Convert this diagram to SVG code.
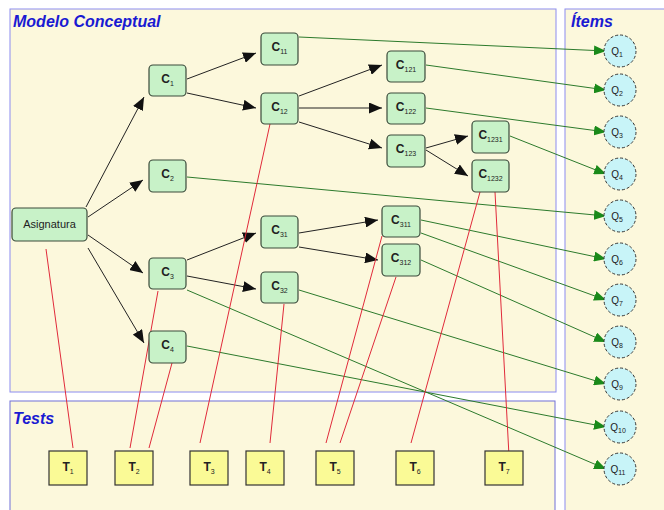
<svg xmlns="http://www.w3.org/2000/svg" width="664" height="510" viewBox="0 0 664 510">
  <style>
    .panel { fill: #fcf8dc; stroke: #8c8cf0; stroke-width: 1; }
    .title { font-family: "Liberation Sans", Arial, sans-serif; font-weight: bold; font-style: italic; font-size: 16px; fill: #1a1ad2; }
    .concept rect { fill: #c8f2c8; stroke: #3a4a3a; stroke-width: 1.2; }
    .item circle { fill: #c8f4f8; stroke: #333; stroke-width: 1; stroke-dasharray: 3 2; }
    .test rect { fill: #fafa96; stroke: #333; stroke-width: 1.2; }
    .lbl { font-family: "Liberation Sans", Arial, sans-serif; font-size: 12px; font-weight: bold; fill: #222; text-anchor: middle; }
    .sub { font-size: 7px; font-weight: normal; }
    .name { font-family: "Liberation Sans", Arial, sans-serif; font-size: 11px; fill: #222; text-anchor: middle; }
    .qlbl { font-family: "Liberation Sans", Arial, sans-serif; font-size: 10px; fill: #222; text-anchor: middle; }
    .hier line { stroke: #222; stroke-width: 1; marker-end: url(#ah-black); }
    .map line { stroke: #2c7a2c; stroke-width: 1; marker-end: url(#ah-green); }
    .cover line { stroke: #e02a3a; stroke-width: 1; }
  </style>
  <defs>
    <marker id="ah-black" viewBox="0 0 13 11" refX="13" refY="5.5" markerWidth="13" markerHeight="11" markerUnits="userSpaceOnUse" orient="auto">
      <path d="M0,0 L13,5.5 L0,11 z" fill="#111"/>
    </marker>
    <marker id="ah-green" viewBox="0 0 12 10" refX="12" refY="5" markerWidth="12" markerHeight="10" markerUnits="userSpaceOnUse" orient="auto">
      <path d="M0,0 L12,5 L0,10 z" fill="#1a8a1a"/>
    </marker>
  </defs>

  <rect width="664" height="510" fill="#ffffff"/>

  <!-- panels -->
  <rect class="panel" x="10" y="9" width="546" height="383"/>
  <rect class="panel" x="565" y="9" width="104" height="510"/>
  <rect class="panel" x="10" y="401" width="545" height="120" style="stroke:#7070d8"/>
  <text class="title" x="13" y="27">Modelo Conceptual</text>
  <text class="title" x="571" y="27">Ítems</text>
  <text class="title" x="13" y="424">Tests</text>

  <!-- connectors -->
  <g id="connectors">
    <g class="map">
      <line x1="299" y1="37" x2="606" y2="51"/>
      <line x1="426" y1="65" x2="606" y2="90"/>
      <line x1="426" y1="108" x2="606" y2="132"/>
      <line x1="510" y1="136" x2="606" y2="174"/>
      <line x1="187" y1="177" x2="606" y2="216"/>
      <line x1="421" y1="220" x2="606" y2="259"/>
      <line x1="421" y1="233" x2="606" y2="300"/>
      <line x1="421" y1="260" x2="606" y2="342"/>
      <line x1="299" y1="290" x2="606" y2="384"/>
      <line x1="187" y1="346" x2="606" y2="427"/>
      <line x1="187" y1="290" x2="606" y2="469"/>
    </g>
    <g class="hier">
      <line x1="86" y1="207" x2="144" y2="97"/>
      <line x1="88" y1="217" x2="143" y2="180"/>
      <line x1="88" y1="235" x2="143" y2="273"/>
      <line x1="88" y1="248" x2="144" y2="343"/>
      <line x1="187" y1="79" x2="256" y2="53"/>
      <line x1="187" y1="93" x2="256" y2="108"/>
      <line x1="299" y1="96" x2="382" y2="65"/>
      <line x1="299" y1="108" x2="382" y2="108"/>
      <line x1="299" y1="122" x2="382" y2="148"/>
      <line x1="426" y1="148" x2="468" y2="136"/>
      <line x1="426" y1="150" x2="468" y2="176"/>
      <line x1="187" y1="260" x2="256" y2="233"/>
      <line x1="187" y1="276" x2="256" y2="289"/>
      <line x1="299" y1="233" x2="378" y2="220"/>
      <line x1="299" y1="247" x2="378" y2="260"/>
    </g>
    <g class="cover">
      <line x1="46" y1="249" x2="73" y2="448"/>
      <line x1="158" y1="291" x2="130" y2="448"/>
      <line x1="172" y1="363" x2="149" y2="448"/>
      <line x1="270" y1="124" x2="200" y2="443"/>
      <line x1="284" y1="304" x2="270" y2="443"/>
      <line x1="382" y1="236" x2="326" y2="443"/>
      <line x1="396" y1="277" x2="340" y2="443"/>
      <line x1="480" y1="192" x2="411" y2="443"/>
      <line x1="495" y1="192" x2="509" y2="456"/>
    </g>
  </g>

  <!-- concept nodes -->
  <g id="asignatura" class="concept"><rect x="12" y="208" width="75" height="33" rx="4"/><text class="name" x="49.5" y="228">Asignatura</text></g>
  <g id="c1" class="concept"><rect x="149" y="65" width="37" height="31" rx="4"/><text class="lbl" x="167.5" y="83">C<tspan class="sub" dy="3">1</tspan></text></g>
  <g id="c11" class="concept"><rect x="261" y="33" width="37" height="32" rx="4"/><text class="lbl" x="279.5" y="51">C<tspan class="sub" dy="3">11</tspan></text></g>
  <g id="c12" class="concept"><rect x="261" y="93" width="37" height="31" rx="4"/><text class="lbl" x="279.5" y="111">C<tspan class="sub" dy="3">12</tspan></text></g>
  <g id="c2" class="concept"><rect x="149" y="160" width="37" height="32" rx="4"/><text class="lbl" x="167.5" y="178">C<tspan class="sub" dy="3">2</tspan></text></g>
  <g id="c121" class="concept"><rect x="387" y="51" width="38" height="31" rx="4"/><text class="lbl" x="406" y="69">C<tspan class="sub" dy="3">121</tspan></text></g>
  <g id="c122" class="concept"><rect x="387" y="93" width="38" height="31" rx="4"/><text class="lbl" x="406" y="111">C<tspan class="sub" dy="3">122</tspan></text></g>
  <g id="c123" class="concept"><rect x="387" y="135" width="38" height="32" rx="4"/><text class="lbl" x="406" y="153">C<tspan class="sub" dy="3">123</tspan></text></g>
  <g id="c1231" class="concept"><rect x="472" y="121" width="37" height="32" rx="4"/><text class="lbl" x="490.5" y="139">C<tspan class="sub" dy="3">1231</tspan></text></g>
  <g id="c1232" class="concept"><rect x="472" y="160" width="37" height="32" rx="4"/><text class="lbl" x="490.5" y="178">C<tspan class="sub" dy="3">1232</tspan></text></g>
  <g id="c3" class="concept"><rect x="149" y="258" width="37" height="31" rx="4"/><text class="lbl" x="167.5" y="276">C<tspan class="sub" dy="3">3</tspan></text></g>
  <g id="c4" class="concept"><rect x="149" y="331" width="37" height="32" rx="4"/><text class="lbl" x="167.5" y="349">C<tspan class="sub" dy="3">4</tspan></text></g>
  <g id="c31" class="concept"><rect x="261" y="216" width="37" height="32" rx="4"/><text class="lbl" x="279.5" y="234">C<tspan class="sub" dy="3">31</tspan></text></g>
  <g id="c32" class="concept"><rect x="261" y="272" width="37" height="31" rx="4"/><text class="lbl" x="279.5" y="290">C<tspan class="sub" dy="3">32</tspan></text></g>
  <g id="c311" class="concept"><rect x="382" y="206" width="38" height="31" rx="4"/><text class="lbl" x="401" y="224">C<tspan class="sub" dy="3">311</tspan></text></g>
  <g id="c312" class="concept"><rect x="382" y="244" width="38" height="32" rx="4"/><text class="lbl" x="401" y="262">C<tspan class="sub" dy="3">312</tspan></text></g>

  <!-- item nodes -->
  <g id="q1" class="item"><circle cx="620" cy="51" r="16"/><text class="qlbl" x="617" y="55">Q<tspan class="sub" dy="2">1</tspan></text></g>
  <g id="q2" class="item"><circle cx="620" cy="90" r="16"/><text class="qlbl" x="617" y="94">Q<tspan class="sub" dy="2">2</tspan></text></g>
  <g id="q3" class="item"><circle cx="620" cy="132" r="16"/><text class="qlbl" x="617" y="136">Q<tspan class="sub" dy="2">3</tspan></text></g>
  <g id="q4" class="item"><circle cx="620" cy="174" r="16"/><text class="qlbl" x="617" y="178">Q<tspan class="sub" dy="2">4</tspan></text></g>
  <g id="q5" class="item"><circle cx="620" cy="216" r="16"/><text class="qlbl" x="617" y="220">Q<tspan class="sub" dy="2">5</tspan></text></g>
  <g id="q6" class="item"><circle cx="620" cy="259" r="16"/><text class="qlbl" x="617" y="263">Q<tspan class="sub" dy="2">6</tspan></text></g>
  <g id="q7" class="item"><circle cx="620" cy="300" r="16"/><text class="qlbl" x="617" y="304">Q<tspan class="sub" dy="2">7</tspan></text></g>
  <g id="q8" class="item"><circle cx="620" cy="342" r="16"/><text class="qlbl" x="617" y="346">Q<tspan class="sub" dy="2">8</tspan></text></g>
  <g id="q9" class="item"><circle cx="620" cy="384" r="16"/><text class="qlbl" x="617" y="388">Q<tspan class="sub" dy="2">9</tspan></text></g>
  <g id="q10" class="item"><circle cx="620" cy="427" r="16"/><text class="qlbl" x="618" y="431">Q<tspan class="sub" dy="2">10</tspan></text></g>
  <g id="q11" class="item"><circle cx="620" cy="469" r="16"/><text class="qlbl" x="618" y="473">Q<tspan class="sub" dy="2">11</tspan></text></g>

  <!-- test nodes -->
  <g id="t1" class="test"><rect x="49" y="451" width="38" height="34"/><text class="lbl" x="68" y="471">T<tspan class="sub" dy="3">1</tspan></text></g>
  <g id="t2" class="test"><rect x="115" y="451" width="38" height="34"/><text class="lbl" x="134" y="471">T<tspan class="sub" dy="3">2</tspan></text></g>
  <g id="t3" class="test"><rect x="190" y="451" width="38" height="34"/><text class="lbl" x="209" y="471">T<tspan class="sub" dy="3">3</tspan></text></g>
  <g id="t4" class="test"><rect x="246" y="451" width="38" height="34"/><text class="lbl" x="265" y="471">T<tspan class="sub" dy="3">4</tspan></text></g>
  <g id="t5" class="test"><rect x="316" y="451" width="38" height="34"/><text class="lbl" x="335" y="471">T<tspan class="sub" dy="3">5</tspan></text></g>
  <g id="t6" class="test"><rect x="396" y="451" width="38" height="34"/><text class="lbl" x="415" y="471">T<tspan class="sub" dy="3">6</tspan></text></g>
  <g id="t7" class="test"><rect x="485" y="451" width="38" height="34"/><text class="lbl" x="504" y="471">T<tspan class="sub" dy="3">7</tspan></text></g>
</svg>
